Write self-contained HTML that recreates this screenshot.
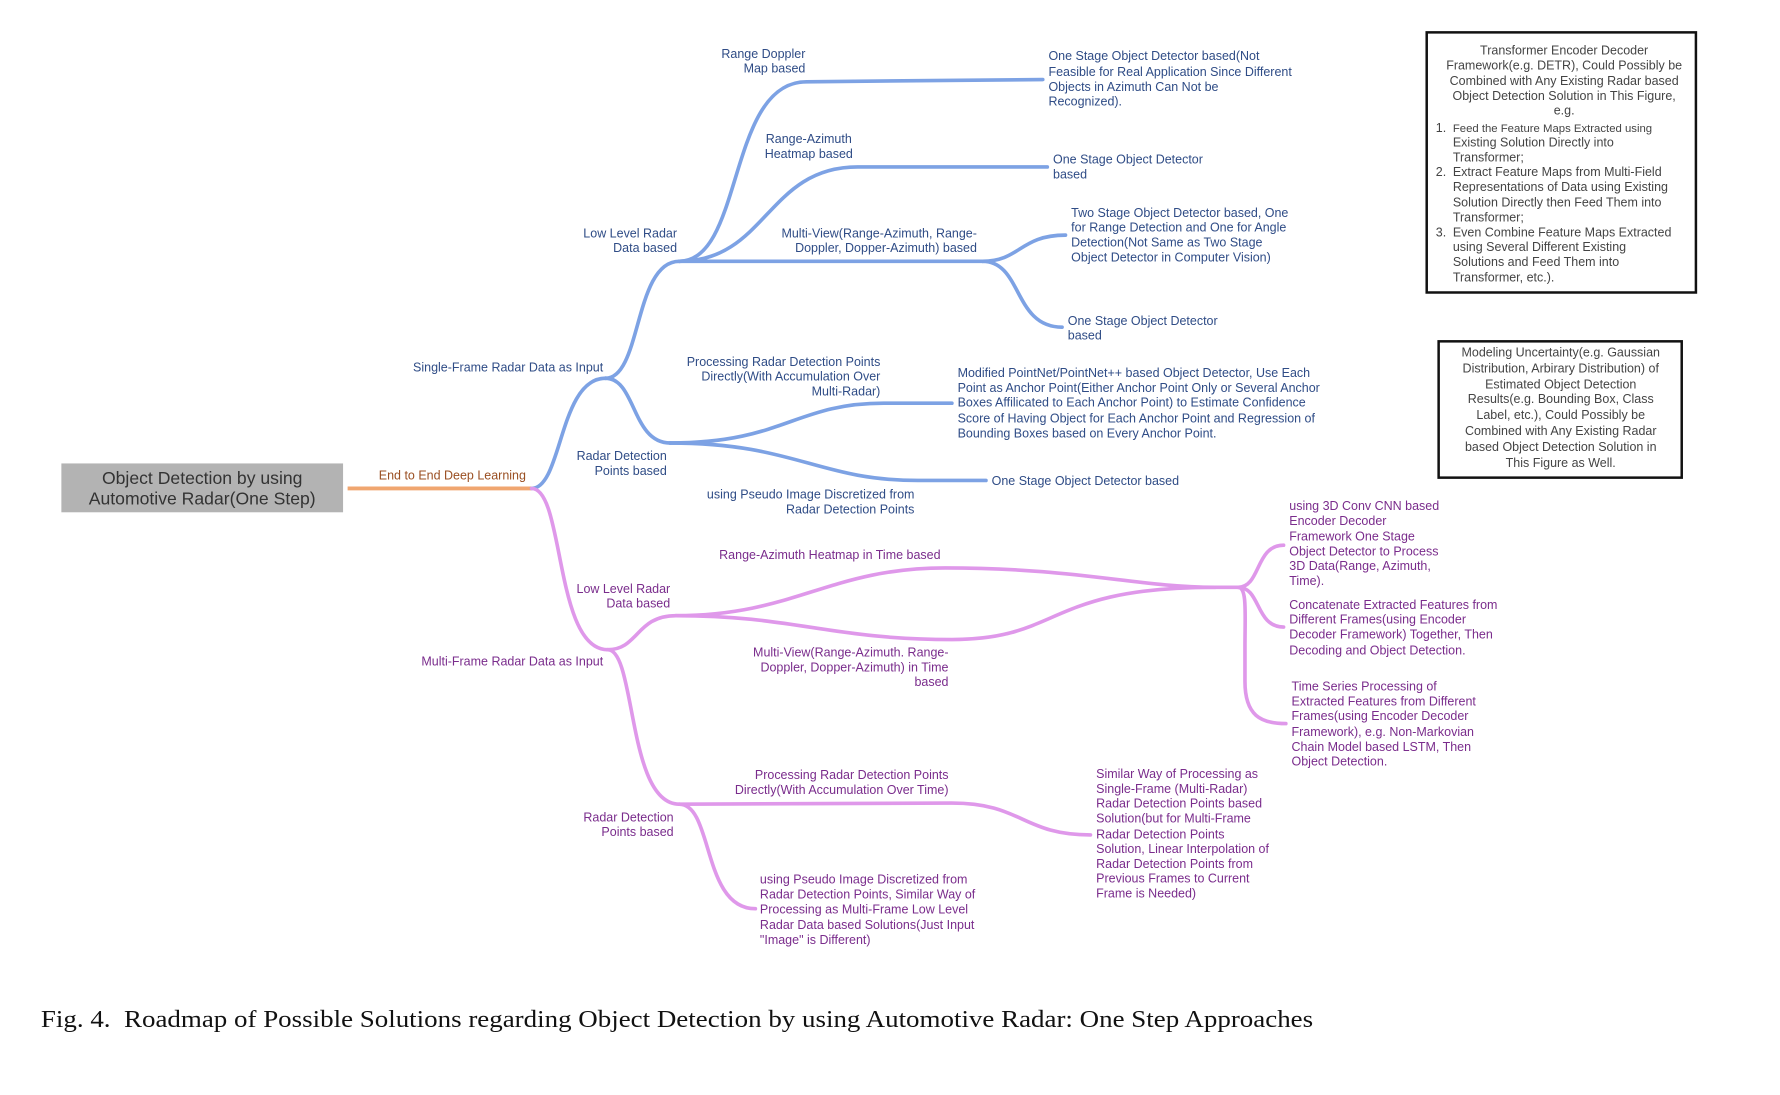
<!DOCTYPE html>
<html><head><meta charset="utf-8"><style>
html,body{margin:0;padding:0;background:#fff;}
svg{display:block;}
text{font-family:"Liberation Sans",sans-serif;font-size:11px;}
.b{fill:#2f4c86;}
.p{fill:#7a2c8c;}
.g{fill:#444;}
.r{text-anchor:end;}
.c{text-anchor:middle;}
.lb{fill:none;stroke:#7da2e4;stroke-width:3.2;stroke-linecap:round;}
.lp{fill:none;stroke:#df98ea;stroke-width:3.2;stroke-linecap:round;}
</style></head><body>
<svg width="1780" height="1095" viewBox="0 0 1567 964" xmlns="http://www.w3.org/2000/svg">
<rect width="1567" height="964" fill="#fff"/>
<!-- root -->
<rect x="54" y="408" width="248" height="43" fill="#b3b3b3"/>
<text x="178" y="426" class="c" style="font-size:15.5px;fill:#333">Object Detection by using</text>
<text x="178" y="444" class="c" style="font-size:15.5px;fill:#333">Automotive Radar(One Step)</text>
<line x1="306" y1="430" x2="468" y2="430" stroke="#f0a670" stroke-width="3.5"/>
<text x="463" y="422" class="r" style="fill:#9a4f22">End to End Deep Learning</text>

<!-- blue -->
<path class="lb" d="M468,430 C495,430 492,333 533,333"/>
<path class="lb" d="M533,333 C565,333 558,230 598,230"/>
<path class="lb" d="M533,333 C560,333 556,390 590,390"/>
<path class="lb" d="M598,230 C655,230 640,72 710,72 L918,70"/>
<path class="lb" d="M598,230 C675,230 675,147 755,147 L922,147"/>
<path class="lb" d="M598,230 L865,230"/>
<path class="lb" d="M865,230 C898,230 898,207 938,207"/>
<path class="lb" d="M865,230 C900,230 892,288 935,288"/>
<path class="lb" d="M590,390 C690,390 700,355 778,355 L838,355"/>
<path class="lb" d="M590,390 C700,390 720,423 808,423 L868,423"/>

<text x="531" y="327" class="b r">Single-Frame Radar Data as Input</text>
<text x="596" y="209" class="b r">Low Level Radar</text><text x="596" y="222" class="b r">Data based</text>
<text x="587" y="405" class="b r">Radar Detection</text><text x="587" y="418" class="b r">Points based</text>
<text x="709" y="51" class="b r">Range Doppler</text><text x="709" y="64" class="b r">Map based</text>
<text x="923" y="53" class="b">One Stage Object Detector based(Not</text>
<text x="923" y="67" class="b">Feasible for Real Application Since Different</text>
<text x="923" y="80" class="b">Objects in Azimuth Can Not be</text>
<text x="923" y="93" class="b">Recognized).</text>
<text x="712" y="126" class="b c">Range-Azimuth</text><text x="712" y="139" class="b c">Heatmap based</text>
<text x="927" y="144" class="b">One Stage Object Detector</text><text x="927" y="157" class="b">based</text>
<text x="860" y="209" class="b r">Multi-View(Range-Azimuth, Range-</text>
<text x="860" y="222" class="b r">Doppler, Dopper-Azimuth) based</text>
<text x="943" y="191" class="b">Two Stage Object Detector based, One</text>
<text x="943" y="204" class="b">for Range Detection and One for Angle</text>
<text x="943" y="217" class="b">Detection(Not Same as Two Stage</text>
<text x="943" y="230" class="b">Object Detector in Computer Vision)</text>
<text x="940" y="286" class="b">One Stage Object Detector</text><text x="940" y="299" class="b">based</text>
<text x="775" y="322" class="b r">Processing Radar Detection Points</text>
<text x="775" y="335" class="b r">Directly(With Accumulation Over</text>
<text x="775" y="348" class="b r">Multi-Radar)</text>
<text x="843" y="332" class="b">Modified PointNet/PointNet++ based Object Detector, Use Each</text>
<text x="843" y="345" class="b">Point as Anchor Point(Either Anchor Point Only or Several Anchor</text>
<text x="843" y="358" class="b">Boxes Affilicated to Each Anchor Point) to Estimate Confidence</text>
<text x="843" y="372" class="b">Score of Having Object for Each Anchor Point and Regression of</text>
<text x="843" y="385" class="b">Bounding Boxes based on Every Anchor Point.</text>
<text x="873" y="427" class="b">One Stage Object Detector based</text>
<text x="805" y="439" class="b r">using Pseudo Image Discretized from</text>
<text x="805" y="452" class="b r">Radar Detection Points</text>

<!-- pink -->
<path class="lp" d="M468,430 C497,430 488,572 535,572"/>
<path class="lp" d="M535,572 C562,572 560,542 595,542"/>
<path class="lp" d="M535,572 C560,572 552,708 598,708"/>
<path class="lp" d="M595,542 C700,542 730,500 832,500 C950,500 1000,517 1070,517 L1095,517"/>
<path class="lp" d="M595,542 C700,542 730,563 838,563 C935,563 920,517 1070,517"/>
<path class="lp" d="M1090,517 C1110,517 1105,480 1130,480"/>
<path class="lp" d="M1090,517 C1110,517 1105,552 1130,552"/>
<path class="lp" d="M1090,517 C1098,517 1096,540 1096,570 L1096,600 C1096,630 1110,637 1132,637"/>
<path class="lp" d="M598,708 L838,707 C900,707 900,735 960,735"/>
<path class="lp" d="M598,708 C628,708 618,800 665,800"/>

<text x="531" y="586" class="p r">Multi-Frame Radar Data as Input</text>
<text x="590" y="522" class="p r">Low Level Radar</text><text x="590" y="535" class="p r">Data based</text>
<text x="593" y="723" class="p r">Radar Detection</text><text x="593" y="736" class="p r">Points based</text>
<text x="828" y="492" class="p r">Range-Azimuth Heatmap in Time based</text>
<text x="835" y="578" class="p r">Multi-View(Range-Azimuth. Range-</text>
<text x="835" y="591" class="p r">Doppler, Dopper-Azimuth) in Time</text>
<text x="835" y="604" class="p r">based</text>
<text x="1135" y="449" class="p">using 3D Conv CNN based</text>
<text x="1135" y="462" class="p">Encoder Decoder</text>
<text x="1135" y="476" class="p">Framework One Stage</text>
<text x="1135" y="489" class="p">Object Detector to Process</text>
<text x="1135" y="502" class="p">3D Data(Range, Azimuth,</text>
<text x="1135" y="515" class="p">Time).</text>
<text x="1135" y="536" class="p">Concatenate Extracted Features from</text>
<text x="1135" y="549" class="p">Different Frames(using Encoder</text>
<text x="1135" y="562" class="p">Decoder Framework) Together, Then</text>
<text x="1135" y="576" class="p">Decoding and Object Detection.</text>
<text x="1137" y="608" class="p">Time Series Processing of</text>
<text x="1137" y="621" class="p">Extracted Features from Different</text>
<text x="1137" y="634" class="p">Frames(using Encoder Decoder</text>
<text x="1137" y="648" class="p">Framework), e.g. Non-Markovian</text>
<text x="1137" y="661" class="p">Chain Model based LSTM, Then</text>
<text x="1137" y="674" class="p">Object Detection.</text>
<text x="835" y="686" class="p r">Processing Radar Detection Points</text>
<text x="835" y="699" class="p r">Directly(With Accumulation Over Time)</text>
<text x="965" y="685" class="p">Similar Way of Processing as</text>
<text x="965" y="698" class="p">Single-Frame (Multi-Radar)</text>
<text x="965" y="711" class="p">Radar Detection Points based</text>
<text x="965" y="724" class="p">Solution(but for Multi-Frame</text>
<text x="965" y="738" class="p">Radar Detection Points</text>
<text x="965" y="751" class="p">Solution, Linear Interpolation of</text>
<text x="965" y="764" class="p">Radar Detection Points from</text>
<text x="965" y="777" class="p">Previous Frames to Current</text>
<text x="965" y="790" class="p">Frame is Needed)</text>
<text x="669" y="778" class="p">using Pseudo Image Discretized from</text>
<text x="669" y="791" class="p">Radar Detection Points, Similar Way of</text>
<text x="669" y="804" class="p">Processing as Multi-Frame Low Level</text>
<text x="669" y="818" class="p">Radar Data based Solutions(Just Input</text>
<text x="669" y="831" class="p">"Image" is Different)</text>

<!-- boxes -->
<rect x="1256" y="28.5" width="237" height="229" fill="none" stroke="#111" stroke-width="2.2"/>
<g class="g">
<text x="1377" y="48" class="c">Transformer Encoder Decoder</text>
<text x="1377" y="61" class="c">Framework(e.g. DETR), Could Possibly be</text>
<text x="1377" y="75" class="c">Combined with Any Existing Radar based</text>
<text x="1377" y="88" class="c">Object Detection Solution in This Figure,</text>
<text x="1377" y="101" class="c">e.g.</text>
<text x="1264" y="116">1.</text><text x="1279" y="116" style="font-size:10px">Feed the Feature Maps Extracted using</text>
<text x="1279" y="129">Existing Solution Directly into</text>
<text x="1279" y="142">Transformer;</text>
<text x="1264" y="155">2.</text><text x="1279" y="155">Extract Feature Maps from Multi-Field</text>
<text x="1279" y="168">Representations of Data using Existing</text>
<text x="1279" y="182">Solution Directly then Feed Them into</text>
<text x="1279" y="195">Transformer;</text>
<text x="1264" y="208">3.</text><text x="1279" y="208">Even Combine Feature Maps Extracted</text>
<text x="1279" y="221">using Several Different Existing</text>
<text x="1279" y="234">Solutions and Feed Them into</text>
<text x="1279" y="248">Transformer, etc.).</text>
</g>
<rect x="1266.5" y="300.5" width="214" height="120" fill="none" stroke="#111" stroke-width="2.2"/>
<g class="g">
<text x="1374" y="314" class="c">Modeling Uncertainty(e.g. Gaussian</text>
<text x="1374" y="328" class="c">Distribution, Arbirary Distribution) of</text>
<text x="1374" y="342" class="c">Estimated Object Detection</text>
<text x="1374" y="355" class="c">Results(e.g. Bounding Box, Class</text>
<text x="1374" y="369" class="c">Label, etc.), Could Possibly be</text>
<text x="1374" y="383" class="c">Combined with Any Existing Radar</text>
<text x="1374" y="397" class="c">based Object Detection Solution in</text>
<text x="1374" y="411" class="c">This Figure as Well.</text>
</g>

<text x="36" y="904" textLength="1120" lengthAdjust="spacingAndGlyphs" style="font-family:'Liberation Serif',serif;font-size:21px;fill:#111" xml:space="preserve">Fig. 4.  Roadmap of Possible Solutions regarding Object Detection by using Automotive Radar: One Step Approaches</text>
</svg>
</body></html>
